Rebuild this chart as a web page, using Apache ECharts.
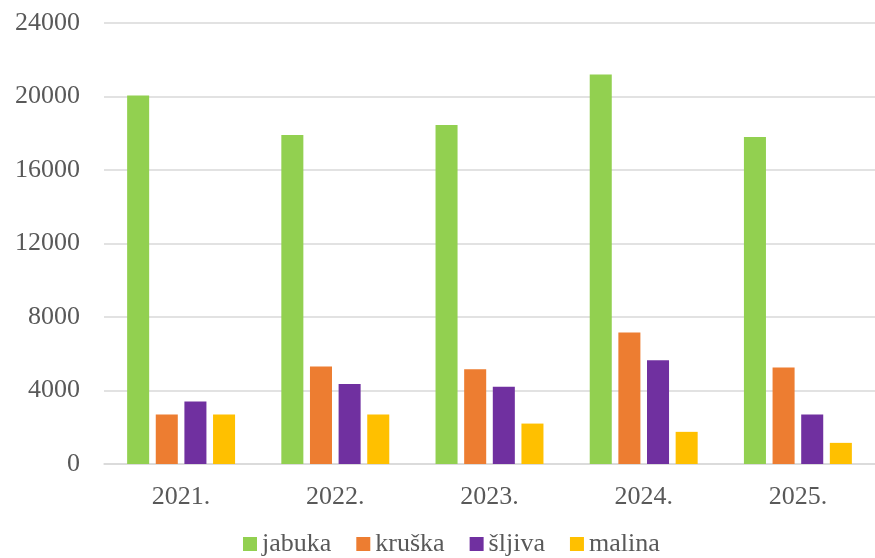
<!DOCTYPE html>
<html>
<head>
<meta charset="utf-8">
<script src="https://cdn.jsdelivr.net/npm/echarts@6/dist/echarts.min.js"></script>
<style>
  html, body { margin: 0; padding: 0; background: #fff; }
  #chart { width: 875px; height: 558px; }
</style>
</head>
<body>
<div id="chart"></div>
<script>
// Data
const years = ['2021.', '2022.', '2023.', '2024.', '2025.']
const jabuka = [20050, 17900, 18450, 21200, 17800]
const kruska = [2700, 5300, 5150, 7150, 5250]
const sljiva = [3400, 4350, 4200, 5650, 2700]
const malina = [2700, 2700, 2200, 1750, 1150]

const font = 'Liberation Serif'
const textColor = '#595959'

const chart = echarts.init(document.getElementById('chart'))

const bar = (name, data, color) => ({
    name: name,
    type: 'bar',
    data: data,
    barGap: '30%',
    barCategoryGap: '30%',
    itemStyle: { color: color }
})

chart.setOption({
    animation: false,
    textStyle: { fontFamily: font },
    grid: { left: 104, width: 777, top: 23, bottom: 94, containLabel: false },
    legend: {
        left: 243,
        top: 531,
        padding: 0,
        itemWidth: 14,
        itemHeight: 14,
        itemGap: 25,
        icon: 'rect',
        textStyle: { fontFamily: font, fontSize: 26, color: textColor }
    },
    xAxis: {
        type: 'category',
        data: years,
        axisLine: { lineStyle: { color: '#d9d9d9', width: 1.5 } },
        axisTick: { show: false },
        axisLabel: { fontFamily: font, fontSize: 26, color: textColor, margin: 20 }
    },
    yAxis: {
        type: 'value',
        min: 0,
        max: 24000,
        interval: 4000,
        axisLine: { show: false },
        axisTick: { show: false },
        splitLine: { lineStyle: { color: '#d9d9d9', width: 1.5 } },
        axisLabel: {
            fontFamily: font, fontSize: 26, color: textColor, margin: 24,
            formatter: v => String(v)
        }
    },
    series: [
        bar('jabuka', jabuka, '#92d050'),
        bar('kruška', kruska, '#ed7d31'),
        bar('šljiva', sljiva, '#7030a0'),
        bar('malina', malina, '#ffc000')
    ]
})
</script>
</body>
</html>
